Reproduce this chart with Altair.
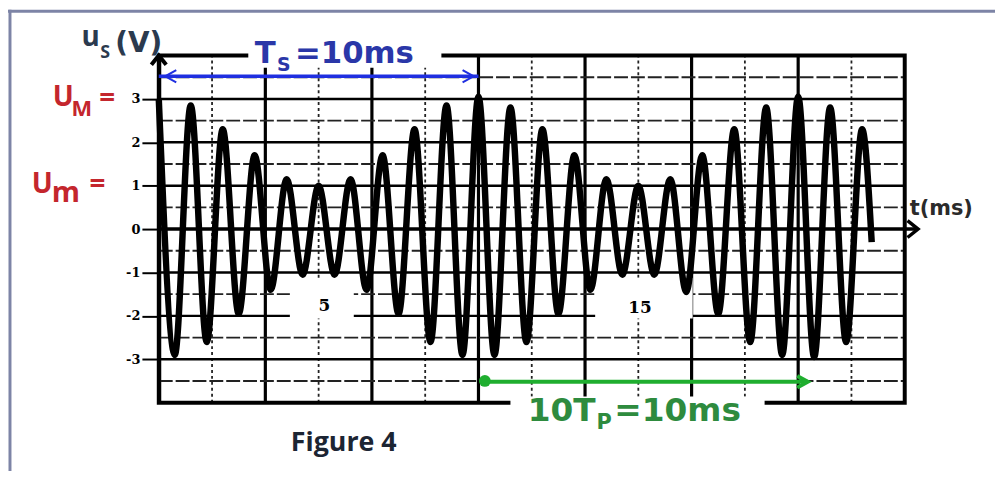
import altair as alt
import pandas as pd

# ---- signal extrema (t in ms, u in V) ----
t_ms = [0, 0.5, 1, 1.5, 2, 2.5, 3, 3.5, 4, 4.5, 5, 5.5, 6, 6.5, 7, 7.5, 8, 8.5, 9, 9.5,
        10, 10.5, 11, 11.5, 12, 12.5, 13, 13.5, 14, 14.5, 15, 15.5, 16, 16.5, 17, 17.5,
        18, 18.5, 19, 19.5, 20, 20.5, 21, 21.5, 22, 22.3]
u_v = [3.0, -2.9, 2.85, -2.6, 2.3, -1.95, 1.7, -1.4, 1.15, -1.05, 1.0, -1.05, 1.15, -1.4,
       1.7, -1.95, 2.3, -2.6, 2.85, -2.9,
       3.05, -2.9, 2.8, -2.6, 2.3, -1.95, 1.7, -1.4, 1.15, -1.05, 1.0, -1.05, 1.15, -1.45,
       1.7, -1.95, 2.3, -2.6, 2.8, -2.9,
       3.05, -2.95, 2.8, -2.6, 2.3, -0.3]

y_tick_values = [-3, -2, -1, 0, 1, 2, 3]
DIV_MS = 10 / 6          # one horizontal division
N_DIV = 14
T_MAX = N_DIV * DIV_MS
U_MIN, U_MAX = -4, 4

W, H = 752, 350

xs = alt.Scale(domain=[0, T_MAX], nice=False, zero=False)
ys = alt.Scale(domain=[U_MIN, U_MAX], nice=False, zero=False)
yaxis = alt.Axis(values=y_tick_values, title=None, grid=False, domain=True,
                 domainColor="black", domainWidth=4, ticks=True, tickColor="black",
                 tickWidth=2, tickSize=17, labelPadding=2, labelFont="DejaVu Serif",
                 labelFontWeight="bold", labelFontSize=13, labelColor="black",
                 labelExpr="'' + datum.value")


def X(f):
    return alt.X(f, type="quantitative", scale=xs, axis=None)


def Y(f):
    return alt.Y(f, type="quantitative", scale=ys, axis=yaxis)


def X2(f):
    return alt.X2(f)


def Y2(f):
    return alt.Y2(f)


sig = pd.DataFrame({"t": t_ms, "u": u_v})

# grid
vgrid = pd.DataFrame({"t": [k * DIV_MS for k in range(1, N_DIV)],
                      "k": list(range(1, N_DIV))})
vgrid["u0"] = U_MIN
vgrid["u1"] = U_MAX
hvals = [v / 2 for v in range(-7, 8) if v != 0]
hgrid = pd.DataFrame({"u": hvals})
hgrid["t0"] = 0
hgrid["t1"] = T_MAX
hgrid["whole"] = [float(v).is_integer() for v in hvals]

v_solid = alt.Chart(vgrid[vgrid.k % 2 == 0]).mark_rule(color="black", strokeWidth=3.2).encode(
    x=X("t"), y=Y("u0"), y2=Y2("u1"))
v_dash = alt.Chart(vgrid[vgrid.k % 2 == 1]).mark_rule(color="#222", strokeWidth=1.8,
                                                      strokeDash=[3, 3]).encode(
    x=X("t"), y=Y("u0"), y2=Y2("u1"))
h_solid = alt.Chart(hgrid[hgrid.whole]).mark_rule(color="black", strokeWidth=2.5).encode(
    x=X("t0"), x2=X2("t1"), y=Y("u"))
h_dash = alt.Chart(hgrid[~hgrid.whole]).mark_rule(color="#222", strokeWidth=1.9,
                                                  strokeDash=[14, 3]).encode(
    x=X("t0"), x2=X2("t1"), y=Y("u"))

frame_df = pd.DataFrame({"t0": [0], "t1": [T_MAX], "u0": [U_MIN], "u1": [U_MAX]})
border = alt.Chart(frame_df).mark_rect(fill=None, fillOpacity=0, stroke="black",
                                       strokeWidth=4).encode(
    x=X("t0"), x2=X2("t1"), y=Y("u0"), y2=Y2("u1"))

xaxis_df = pd.DataFrame({"t0": [0], "t1": [23.75], "u": [0]})
xaxis_line = alt.Chart(xaxis_df).mark_rule(color="black", strokeWidth=3.5).encode(
    x=X("t0"), x2=X2("t1"), y=Y("u"))

# white boxes behind labels
boxes = pd.DataFrame({
    "t0": [4.1, 13.65, 2.8, 11.0],
    "t1": [6.1, 16.7, 8.84, 18.95],
    "u0": [-1.17, -1.12, 4.37, -3.86],
    "u1": [-2.06, -2.06, 3.72, -4.7],
})
white = alt.Chart(boxes).mark_rect(color="white").encode(
    x=X("t0"), x2=X2("t1"), y=Y("u0"), y2=Y2("u1"))

signal = alt.Chart(sig).mark_line(color="black", strokeWidth=6.5,
                                  interpolate="monotone").encode(x=X("t"), y=Y("u"))

# arrows
blue_df = pd.DataFrame({"t0": [0], "t1": [10], "u": [3.52]})
blue_line = alt.Chart(blue_df).mark_rule(color="#1f2fe0", strokeWidth=3.5).encode(
    x=X("t0"), x2=X2("t1"), y=Y("u"))
green_df = pd.DataFrame({"t0": [10.05], "t1": [20.3], "u": [-3.52]})
green_line = alt.Chart(green_df).mark_rule(color="#1fae2f", strokeWidth=4).encode(
    x=X("t0"), x2=X2("t1"), y=Y("u"))

RIGHT = "M -1 -0.55 L 0 0 L -1 0.55"
LEFT = "M 1 -0.55 L 0 0 L 1 0.55"
UP = "M -0.8 1 L 0 0 L 0.8 1"

heads_blue = alt.Chart(pd.DataFrame({"t": [0.2, 9.85], "u": [3.52, 3.52],
                                     "d": ["l", "r"]}))
bl = heads_blue.transform_filter("datum.d == 'l'").mark_point(
    shape=LEFT, size=500, stroke="#1f2fe0", strokeWidth=2, filled=False, opacity=1).encode(
    x=X("t"), y=Y("u"))
br = heads_blue.transform_filter("datum.d == 'r'").mark_point(
    shape=RIGHT, size=500, stroke="#1f2fe0", strokeWidth=2, filled=False, opacity=1).encode(
    x=X("t"), y=Y("u"))

g_blob = alt.Chart(pd.DataFrame({"t": [10.2], "u": [-3.5]})).mark_point(
    shape="circle", size=140, color="#1fae2f", filled=True, opacity=1).encode(
    x=X("t"), y=Y("u"))
g_head = alt.Chart(pd.DataFrame({"t": [20.3], "u": [-3.52]})).mark_point(
    shape=RIGHT, size=450, stroke="#1fae2f", strokeWidth=4, filled=False, opacity=1).encode(
    x=X("t"), y=Y("u"))

x_head = alt.Chart(pd.DataFrame({"t": [23.75], "u": [0]})).mark_point(
    shape="M -1 -0.8 L 0 0 L -1 0.8", size=450, stroke="black", strokeWidth=3.5,
    filled=False, opacity=1).encode(x=X("t"), y=Y("u"))
y_head = alt.Chart(pd.DataFrame({"t": [0], "u": [4.0]})).mark_point(
    shape=UP, size=350, stroke="black", strokeWidth=4, filled=False, opacity=1).encode(
    x=X("t"), y=Y("u"))


def txt(rows, font, size, color, align="left", baseline="alphabetic"):
    df = pd.DataFrame(rows, columns=["s", "t", "u"])
    return alt.Chart(df).mark_text(font=font, fontSize=size, color=color,
                                   fontWeight="bold", align=align,
                                   baseline=baseline).encode(
        x=X("t"), y=Y("u"), text="s:N")


DJ = "DejaVu Sans"
OS = "Open Sans"
RED = "#c4262d"
BLUE_T = "#2a37a8"
GREEN_T = "#2e8b3e"

texts = [
    # y title u_S(V)
    txt([["u", -2.42, 4.21]], OS, 28, "#2b3a4e"),
    txt([["S", -1.83, 3.95]], OS, 18, "#2b3a4e"),
    txt([["(V)", -1.36, 4.09]], DJ, 28, "#2b3a4e"),
    # U_M = and U_m =
    txt([["U", -3.32, 2.834], ["=", -1.86, 2.81],
         ["U", -3.97, 0.823], ["=", -2.17, 0.823]], OS, 28, RED),
    txt([["M", -2.73, 2.606]], OS, 22, RED),
    txt([["m", -3.35, 0.617]], OS, 29, RED),
    # T_S = 10ms
    txt([["T", 3.0, 3.817], ["=10ms", 4.26, 3.817]], DJ, 31, BLUE_T),
    txt([["S", 3.7, 3.634]], DJ, 19, BLUE_T),
    # 10T_P = 10ms
    txt([["10T", 11.54, -4.411], ["=10ms", 14.25, -4.411]], DJ, 33, GREEN_T),
    txt([["P", 13.69, -4.617]], DJ, 21, GREEN_T),
    # axis labels in plot
    txt([["5", 5.18, -1.78], ["15", 15.05, -1.83]], "DejaVu Serif", 17, "black",
        align="center", baseline="middle"),
    txt([["t(ms)", 23.49, 0.32]], DJ, 21, "#2b2b2b"),
    txt([["Figure 4", 4.13, -5.12]], OS, 27, "#1c2533"),
]

# outer frame of the picture (decorative)
frame_top = alt.Chart(pd.DataFrame({"a": [0]})).mark_rule(
    color="#7d84a6", strokeWidth=3).encode(
    x=alt.value(-152), x2=alt.value(W + 91), y=alt.value(-44.5))
frame_left = alt.Chart(pd.DataFrame({"a": [0]})).mark_rule(
    color="#7d84a6", strokeWidth=3).encode(
    x=alt.value(-150), y=alt.value(-46), y2=alt.value(H + 80))

chart = alt.layer(
    frame_top, frame_left,
    v_solid, v_dash, h_solid, h_dash, border, xaxis_line, white,
    signal, blue_line, green_line, bl, br, g_blob, g_head, x_head, y_head,
    *texts,
).properties(
    width=W, height=H,
    autosize=alt.AutoSizeParams(type="none"),
    padding={"left": 152, "top": 46, "right": 91, "bottom": 67},
    background="white",
).configure_view(strokeWidth=0)

chart.save("out.html", embed_options={"renderer": "svg", "actions": False})
